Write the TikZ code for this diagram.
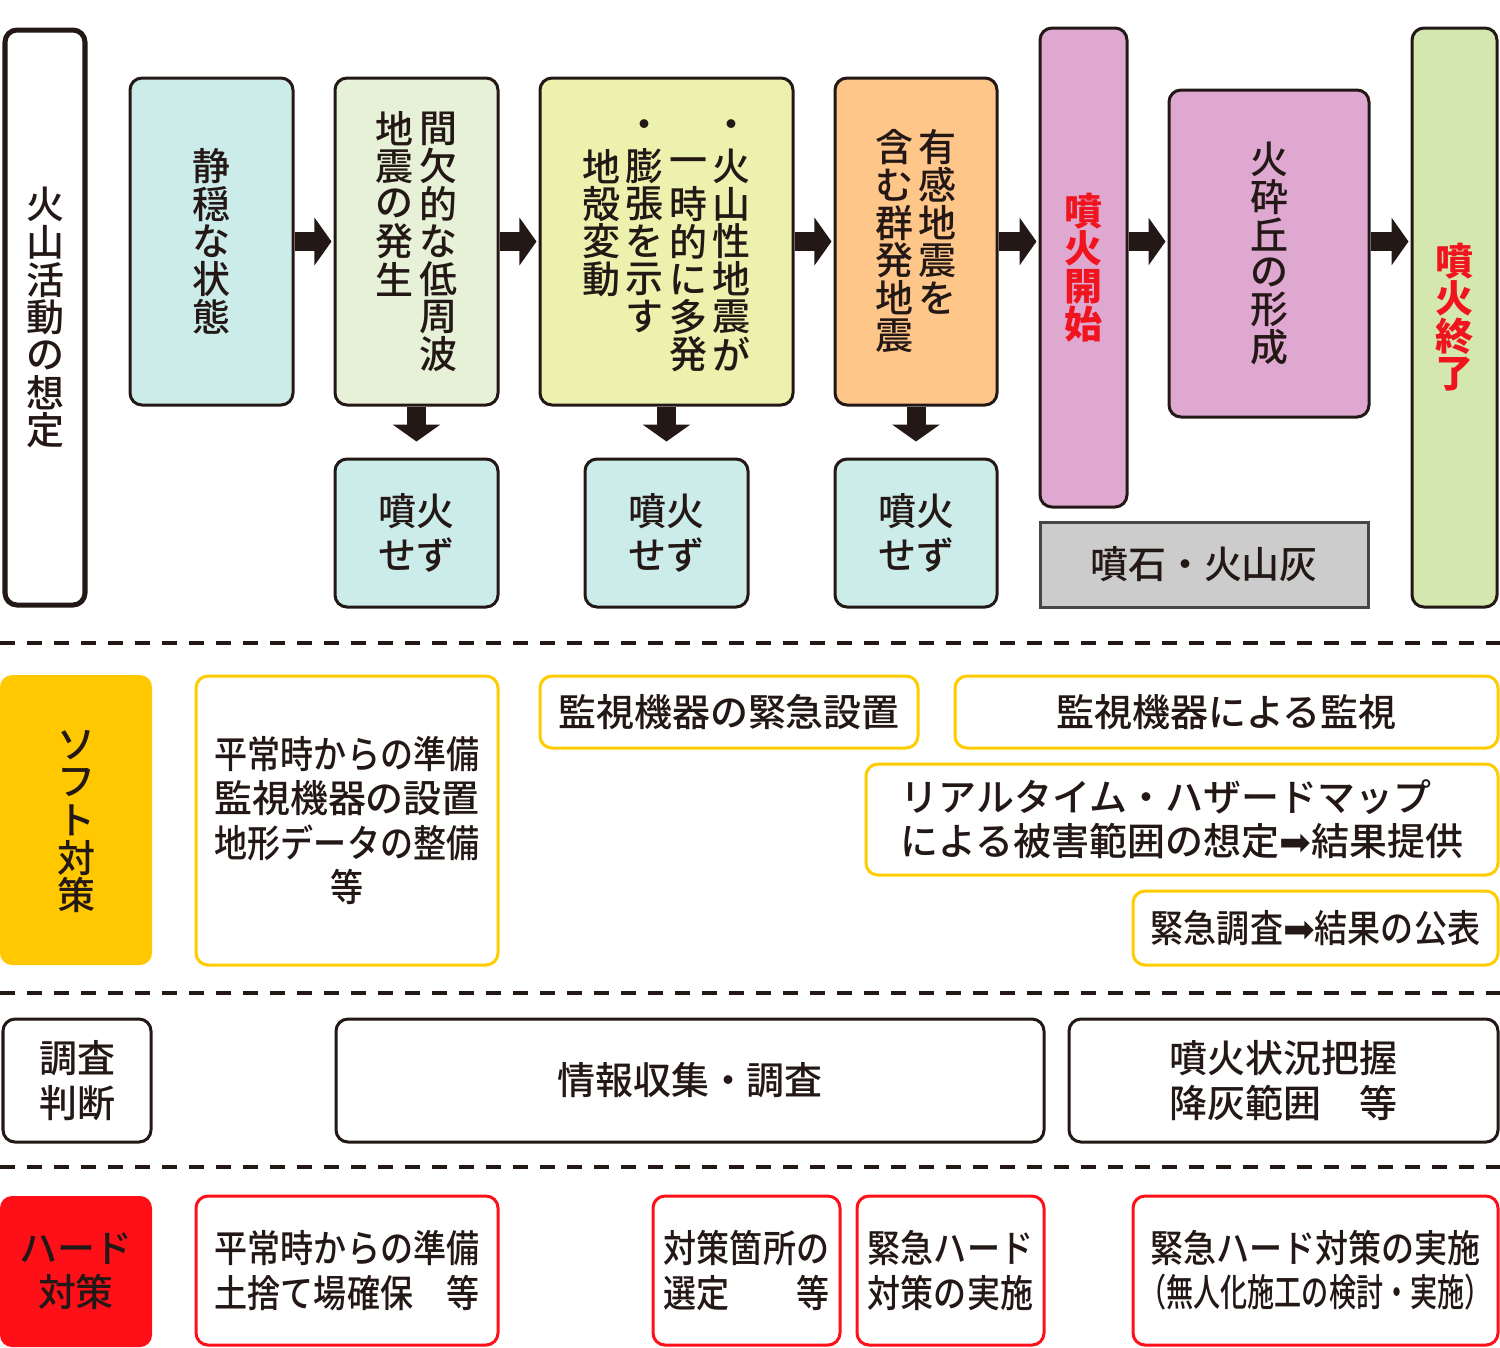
\documentclass[tikz,border=0pt]{standalone}
\usepackage{graphicx}
\usepackage{fontspec}
\setmainfont{Noto Sans CJK JP}[UprightFont=* Medium]
\newfontfamily\narrowfont{Noto Sans CJK JP}[UprightFont=* Medium,FakeStretch=0.87]
\newfontfamily\symfont{DejaVu Sans}
\usetikzlibrary{arrows.meta,calc}

\definecolor{ink}{RGB}{35,24,21}
\definecolor{calmfill}{RGB}{204,236,234}
\definecolor{lowfreqfill}{RGB}{231,241,215}
\definecolor{swarmfill}{RGB}{236,241,174}
\definecolor{feltfill}{RGB}{255,198,137}
\definecolor{eruptfill}{RGB}{223,168,208}
\definecolor{endfill}{RGB}{211,231,174}
\definecolor{ashfill}{RGB}{204,204,204}
\definecolor{ashline}{RGB}{70,70,70}
\definecolor{softgold}{RGB}{255,200,0}
\definecolor{softline}{RGB}{255,204,0}
\definecolor{hardred}{RGB}{255,16,25}
\definecolor{redtext}{RGB}{240,20,30}

\newcommand\mainsz{\fontsize{10.8pt}{12.6pt}\selectfont}
\newlength\tatestep \setlength\tatestep{0.376cm}
\newlength\tategap \setlength\tategap{0.055cm}
\makeatletter
\def\tate@stop{\tate@stop}
\newcommand\tblank{}
\newcommand\tate[1]{\vtop{\offinterlineskip\tate@loop#1\tate@stop}}
\def\tate@loop#1{\ifx\tate@stop#1\else
  \hbox to 1em{\hss\vbox to \tatestep{\vss\hbox{#1}\vss}\hss}%
  \expandafter\tate@loop\fi}
\makeatother
\newcommand\cols{\hspace{\tategap}}
\newcommand\arr{{\symfont ➡}}

\begin{document}
\begin{tikzpicture}[x=0.01cm,y=-0.01cm,font=\mainsz,
  wh/.style 2 args={minimum width=#1*0.01cm,minimum height=#2*0.01cm},
  stage/.style={draw=ink,line width=0.03cm,rounded corners=0.12cm,inner sep=0pt,text=ink,align=center},
  lane/.style={stage,line width=0.05cm,fill=white},
  soft/.style={draw=softline,line width=0.03cm,rounded corners=0.12cm,inner sep=0pt,text=ink,align=center,fill=white},
  check/.style={stage,fill=white},
  hard/.style={draw=hardred,line width=0.03cm,rounded corners=0.12cm,inner sep=0pt,text=ink,align=center,fill=white,font=\mainsz\narrowfont},
  flow/.style={draw=ink,line width=0.19cm,-{Triangle[width=0.47cm,length=0.17cm]}},
  sepline/.style={draw=ink,line width=0.04cm,dash pattern=on 0.15cm off 0.12cm}]
\useasboundingbox (0,0) rectangle (1500,1347);

\node (lane) at (45,317.5)[lane,wh={80}{575}] {\tate{火山活動の想定}};
\node (calm) at (211.5,241.5)[stage,fill=calmfill,wh={163}{327}] {\tate{静穏な状態}};
\node (lowfreq) at (416.5,241.5)[stage,fill=lowfreqfill,wh={163}{327}] {\tate{地震の発生}\cols\tate{間欠的な低周波}};
\node (swarm) at (666.5,241.5)[stage,fill=swarmfill,wh={253}{327}] {\tate{\tblank 地殻変動}\cols\tate{・膨張を示す}\cols\tate{\tblank 一時的に多発}\cols\tate{・火山性地震が}};
\node (felt) at (916,241.5)[stage,fill=feltfill,wh={162}{327}] {\tate{含む群発地震}\cols\tate{有感地震を}};
\node (erupt) at (1083.5,267.5)[stage,fill=eruptfill,wh={87}{479},text=redtext,font=\mainsz\bfseries] {\tate{噴火開始}};
\node (cone) at (1269,253.5)[stage,fill=eruptfill,wh={200}{327}] {\tate{火砕丘の形成}};
\node (finish) at (1454.5,317.5)[stage,fill=endfill,wh={85}{579},text=redtext,font=\mainsz\bfseries] {\tate{噴火終了}};
\node (ash) at (1204,564.5)[draw=ashline,fill=ashfill,line width=0.03cm,inner sep=0pt,text=ink,wh={328}{85}] {噴石・火山灰};
\node (noerupt1) at (416.5,533)[stage,fill=calmfill,wh={163}{148}] {噴火\\せず};
\node (noerupt2) at (666.5,533)[stage,fill=calmfill,wh={163}{148}] {噴火\\せず};
\node (noerupt3) at (916,533)[stage,fill=calmfill,wh={162}{148}] {噴火\\せず};

\draw[flow,shorten >=0.02cm] (calm) -- (lowfreq);
\draw[flow,shorten >=0.02cm] (lowfreq) -- (swarm);
\draw[flow,shorten >=0.02cm] (swarm) -- (felt);
\draw[flow,shorten >=0.02cm] (felt.east) -- (felt.east -| erupt.west);
\draw[flow,shorten >=0.02cm] (erupt.east |- felt.east) -- (cone.west |- felt.east);
\draw[flow,shorten >=0.02cm] (cone.east |- felt.east) -- (finish.west |- felt.east);
\draw[flow,shorten >=0.16cm] (lowfreq) -- (noerupt1);
\draw[flow,shorten >=0.16cm] (swarm) -- (noerupt2);
\draw[flow,shorten >=0.16cm] (felt) -- (noerupt3);

\draw[sepline] (0,643) -- (1500,643);
\draw[sepline] (0,993) -- (1500,993);
\draw[sepline] (0,1167) -- (1500,1167);

\node (softlabel) at (76,820)[fill=softgold,rounded corners=0.12cm,inner sep=0pt,text=ink,wh={152}{290}] {\tate{ソフト対策}};
\node (prep) at (347,820.5)[soft,wh={302}{289},font=\mainsz\narrowfont] {平常時からの準備\\{\normalfont\mainsz 監視機器の設置}\\地形データの整備\\等};
\node (urgent) at (729,712)[soft,wh={378}{72}] {監視機器の緊急設置};
\node (watch) at (1226.5,712)[soft,wh={543}{72}] {監視機器による監視};
\node (hazard) at (1182,819.5)[soft,wh={632}{111},align=left] {リアルタイム・ハザードマップ\\による被害範囲の想定\arr 結果提供};
\node (survey) at (1315.5,928)[soft,wh={365}{74},font=\mainsz\narrowfont] {緊急調査\arr 結果の公表};

\node (judge) at (77,1080.5)[check,wh={148}{123}] {調査\\判断};
\node (collect) at (690,1080.5)[check,wh={708}{123}] {情報収集・調査};
\node (status) at (1283.5,1080.5)[check,wh={429}{123},align=left] {噴火状況把握\\降灰範囲　等};

\node (hardlabel) at (76,1271.5)[fill=hardred,rounded corners=0.12cm,inner sep=0pt,text=ink,align=center,wh={152}{151}] {ハード\\対策};
\node (dump) at (347,1270.5)[hard,wh={302}{149},align=left] {平常時からの準備\\土捨て場確保　等};
\node (site) at (746.5,1270.5)[hard,wh={187}{149},align=left] {対策箇所の\\選定　　等};
\node (works) at (950.5,1270.5)[hard,wh={187}{149},align=left] {緊急ハード\\対策の実施};
\node (unmanned) at (1315.5,1270.5)[hard,wh={365}{149}] {緊急ハード対策の実施\\\scalebox{0.82}[1]{（無人化施工の検討・実施）}};
\end{tikzpicture}
\end{document}
